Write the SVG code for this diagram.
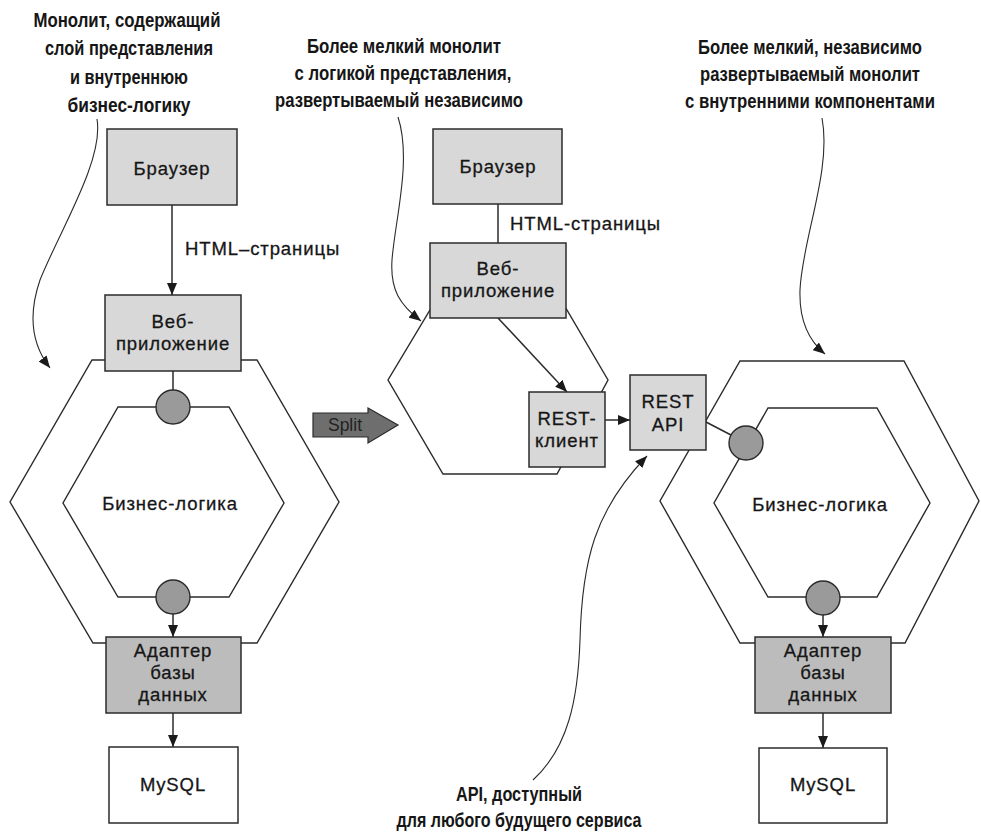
<svg xmlns="http://www.w3.org/2000/svg" width="981" height="835" viewBox="0 0 981 835">
<style>
.title{font-family:"Liberation Sans",Arial,sans-serif;font-weight:bold;font-size:19.5px;fill:#161616;text-anchor:middle}
.lbl{font-family:"Liberation Sans",Arial,sans-serif;font-size:18.5px;letter-spacing:0.9px;fill:#161616;stroke:#161616;stroke-width:0.3;text-anchor:middle}
.edge{font-family:"Liberation Sans",Arial,sans-serif;font-size:18.5px;letter-spacing:0.9px;fill:#161616;stroke:#161616;stroke-width:0.3}
.box{fill:#d8d8d8;stroke:#2b2b2b;stroke-width:1.5}
.dark{fill:#bcbcbc;stroke:#2b2b2b;stroke-width:1.5}
.white{fill:#ffffff;stroke:#2b2b2b;stroke-width:1.5}
.hex{fill:none;stroke:#2b2b2b;stroke-width:1.4}
.port{fill:#9a9a9a;stroke:#2b2b2b;stroke-width:1.4}
.line{fill:none;stroke:#2b2b2b;stroke-width:1.5}
.arr{fill:none;stroke:#2b2b2b;stroke-width:1.5;marker-end:url(#ah)}
.call{fill:none;stroke:#2b2b2b;stroke-width:1.1;marker-end:url(#ah)}
</style>
<defs>
<marker id="ah" viewBox="0 0 12 10" refX="12" refY="5" markerWidth="12" markerHeight="10" markerUnits="userSpaceOnUse" orient="auto">
<path d="M0,0 L12,5 L0,10 z" fill="#1a1a1a"/>
</marker>
</defs>
<rect width="981" height="835" fill="#ffffff"/>

<!-- titles -->
<g id="title-left">
<text class="title" x="127" y="27" textLength="187" lengthAdjust="spacingAndGlyphs">Монолит, содержащий</text>
<text class="title" x="129" y="55" textLength="168" lengthAdjust="spacingAndGlyphs">слой представления</text>
<text class="title" x="129" y="84" textLength="118" lengthAdjust="spacingAndGlyphs">и внутреннюю</text>
<text class="title" x="129" y="112" textLength="123" lengthAdjust="spacingAndGlyphs">бизнес-логику</text>
</g>
<g id="title-middle">
<text class="title" x="404" y="53" textLength="194" lengthAdjust="spacingAndGlyphs">Более мелкий монолит</text>
<text class="title" x="403" y="80" textLength="217" lengthAdjust="spacingAndGlyphs">с логикой представления,</text>
<text class="title" x="399" y="107" textLength="248" lengthAdjust="spacingAndGlyphs">развертываемый независимо</text>
</g>
<g id="title-right">
<text class="title" x="810" y="54" textLength="224" lengthAdjust="spacingAndGlyphs">Более мелкий, независимо</text>
<text class="title" x="810" y="81" textLength="220" lengthAdjust="spacingAndGlyphs">развертываемый монолит</text>
<text class="title" x="810" y="108" textLength="250" lengthAdjust="spacingAndGlyphs">с внутренними компонентами</text>
</g>
<g id="title-bottom">
<text class="title" x="519" y="801" textLength="126" lengthAdjust="spacingAndGlyphs">API, доступный</text>
<text class="title" x="519" y="827" textLength="245" lengthAdjust="spacingAndGlyphs">для любого будущего сервиса</text>
</g>

<!-- hexagons -->
<g id="left-outer-hex"><polygon class="hex" points="92,360 257,360 339,502 257,643 93,643 10,502"/></g>
<g id="left-business-logic">
<polygon class="hex" points="118,407 229,407 284,503 229,597 118,597 63,503"/>
<text class="lbl" x="170" y="510">Бизнес-логика</text>
</g>
<g id="middle-hex"><polygon class="hex" points="433,305 564,305 608,380 557,474 443,474 388,380"/></g>
<g id="right-outer-hex"><polygon class="hex" points="740,361 904,361 979,501 905,643 740,643 660,501"/></g>
<g id="right-business-logic">
<polygon class="hex" points="768,408 877,408 930,503 877,597 768,597 714,503"/>
<text class="lbl" x="820" y="511">Бизнес-логика</text>
</g>

<!-- connectors -->
<g id="connectors">
<path class="arr" d="M172,205 L172,295"/>
<path class="line" d="M173,371 L173,390"/>
<path class="arr" d="M173,614 L173,637"/>
<path class="arr" d="M173,713 L173,747"/>
<path class="line" d="M498,204 L498,243"/>
<path class="arr" d="M498,318 L567,392"/>
<path class="arr" d="M605,420 L630,420"/>
<path class="line" d="M706,422 L731,435"/>
<path class="arr" d="M823,615 L823,637"/>
<path class="arr" d="M823,713 L823,748"/>
<path class="call" d="M97,119 C104,160 60,230 40,280 C28,315 32,345 50,368"/>
<path class="call" d="M398,117 C412,160 395,220 392,260 C390,290 400,305 421,321"/>
<path class="call" d="M822,118 C832,170 802,240 800,290 C799,320 808,340 825,354"/>
<path class="call" d="M533,780 C568,748 578,700 580,640 C582,560 595,510 647,456"/>
<text class="edge" x="185" y="255">HTML–страницы</text>
<text class="edge" x="510" y="230">HTML-страницы</text>
</g>

<!-- left nodes -->
<g id="left-browser">
<rect class="box" x="107" y="129" width="130" height="76"/>
<text class="lbl" x="172" y="175">Браузер</text>
</g>
<g id="left-webapp">
<rect class="box" x="105" y="295" width="136" height="76"/>
<text class="lbl" x="173" y="328">Веб-</text>
<text class="lbl" x="173" y="350">приложение</text>
</g>
<g id="left-port-top"><circle class="port" cx="173" cy="407" r="17"/></g>
<g id="left-port-bottom"><circle class="port" cx="173" cy="597" r="17"/></g>
<g id="left-db-adapter">
<rect class="dark" x="106" y="637" width="135" height="76"/>
<text class="lbl" x="173" y="657">Адаптер</text>
<text class="lbl" x="173" y="679">базы</text>
<text class="lbl" x="173" y="701">данных</text>
</g>
<g id="left-mysql">
<rect class="white" x="109" y="747" width="129" height="76"/>
<text class="lbl" x="173" y="791">MySQL</text>
</g>

<!-- split arrow -->
<g id="split">
<path d="M313,413 L368,413 L368,408 L398,425 L368,443 L368,437 L313,437 z" fill="#6e6e6e" stroke="#2b2b2b" stroke-width="1.2"/>
<text x="345" y="431" font-family="'Liberation Sans',Arial,sans-serif" font-size="17.5" fill="#222" text-anchor="middle">Split</text>
</g>

<!-- middle nodes -->
<g id="middle-browser">
<rect class="box" x="433" y="129" width="129" height="75"/>
<text class="lbl" x="498" y="173">Браузер</text>
</g>
<g id="middle-webapp">
<rect class="box" x="430" y="243" width="136" height="75"/>
<text class="lbl" x="498" y="275">Веб-</text>
<text class="lbl" x="498" y="297">приложение</text>
</g>
<g id="rest-client">
<rect class="box" x="529" y="392" width="76" height="75"/>
<text class="lbl" x="567" y="425">REST-</text>
<text class="lbl" x="567" y="447">клиент</text>
</g>

<!-- right nodes -->
<g id="rest-api">
<rect class="box" x="630" y="375" width="76" height="75"/>
<text class="lbl" x="668" y="408">REST</text>
<text class="lbl" x="668" y="431">API</text>
</g>
<g id="right-port-left"><circle class="port" cx="746" cy="443" r="17"/></g>
<g id="right-port-bottom"><circle class="port" cx="823" cy="598" r="17"/></g>
<g id="right-db-adapter">
<rect class="dark" x="755" y="637" width="136" height="76"/>
<text class="lbl" x="823" y="657">Адаптер</text>
<text class="lbl" x="823" y="679">базы</text>
<text class="lbl" x="823" y="701">данных</text>
</g>
<g id="right-mysql">
<rect class="white" x="759" y="748" width="128" height="75"/>
<text class="lbl" x="823" y="791">MySQL</text>
</g>
</svg>
